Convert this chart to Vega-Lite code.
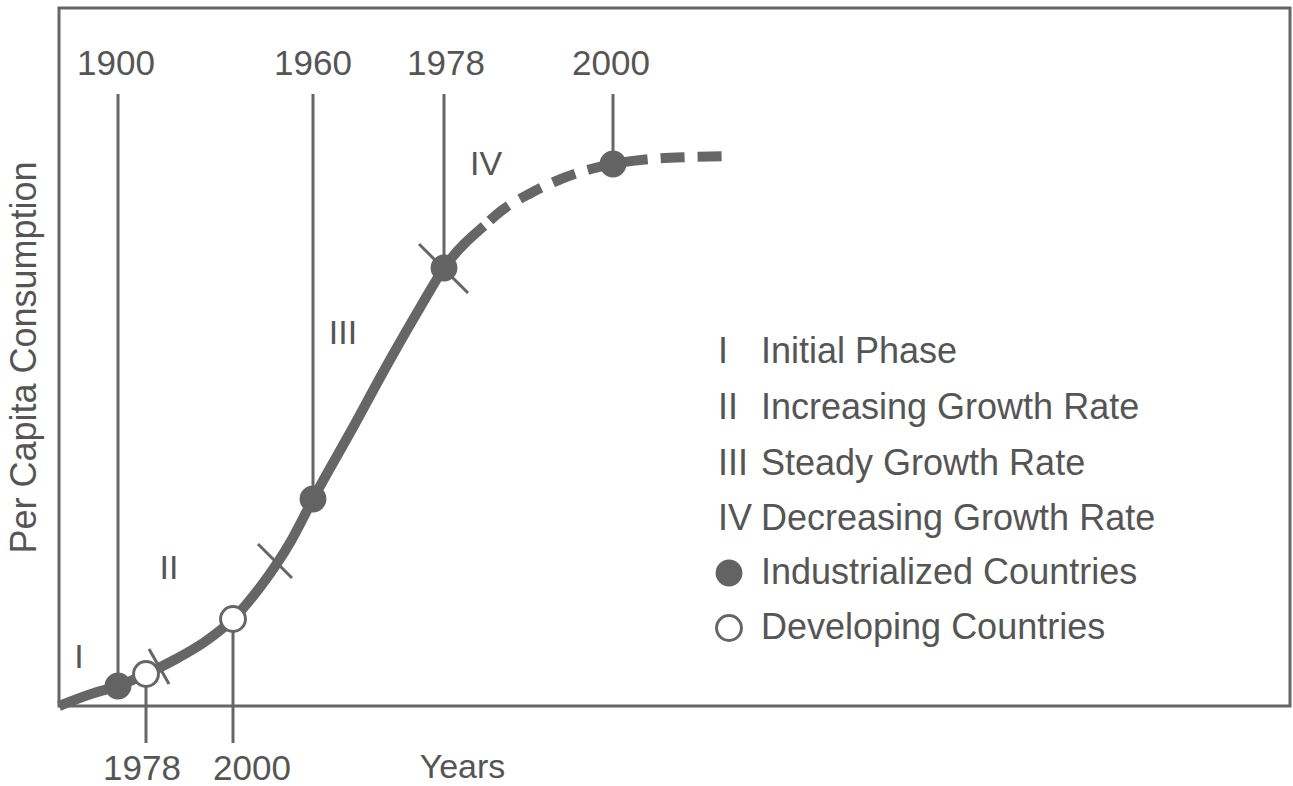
{
  "$schema": "https://vega.github.io/schema/vega-lite/v6.json",
  "width": 1231,
  "height": 698,
  "autosize": {"type": "none"},
  "padding": {"left": 59, "top": 8, "right": 3, "bottom": 80},
  "background": "white",
  "config": {
    "view": {"stroke": "#666666", "strokeWidth": 3},
    "font": "Liberation Sans",
    "text": {"font": "Liberation Sans", "color": "#555555"}
  },
  "datasets": {
    "solid": [
      {"x": 0, "y": 0}, {"x": 32, "y": 12}, {"x": 59, "y": 20}, {"x": 87, "y": 32},
      {"x": 117, "y": 47}, {"x": 147, "y": 65}, {"x": 174, "y": 87}, {"x": 202, "y": 120},
      {"x": 232, "y": 165}, {"x": 254, "y": 207}, {"x": 292, "y": 275}, {"x": 332, "y": 348},
      {"x": 362, "y": 400}, {"x": 385, "y": 438}, {"x": 425, "y": 480}
    ],
    "dashed": [
      {"x": 425, "y": 480}, {"x": 442, "y": 495}, {"x": 472, "y": 513}, {"x": 502, "y": 527},
      {"x": 532, "y": 537}, {"x": 554, "y": 542}, {"x": 592, "y": 547}, {"x": 632, "y": 549},
      {"x": 672, "y": 550}
    ],
    "verticals": [
      {"x": 59, "y": 20, "y2": 612},
      {"x": 254, "y": 207, "y2": 612},
      {"x": 385, "y": 438, "y2": 612},
      {"x": 554, "y": 542, "y2": 612},
      {"x": 87, "y": 32, "y2": -37},
      {"x": 174, "y": 87, "y2": -37}
    ],
    "crossings": [
      {"x": 90, "y": 57, "x2": 110, "y2": 22},
      {"x": 199, "y": 162, "x2": 233, "y2": 128},
      {"x": 360, "y": 462, "x2": 409, "y2": 413}
    ],
    "points": [
      {"x": 59, "y": 20, "group": "Industrialized Countries"},
      {"x": 254, "y": 207, "group": "Industrialized Countries"},
      {"x": 385, "y": 438, "group": "Industrialized Countries"},
      {"x": 554, "y": 542, "group": "Industrialized Countries"},
      {"x": 87, "y": 32, "group": "Developing Countries"},
      {"x": 174, "y": 87, "group": "Developing Countries"},
      {"x": 670, "y": 133, "group": "Industrialized Countries"},
      {"x": 670, "y": 78, "group": "Developing Countries"}
    ],
    "yearLabels": [
      {"x": 57, "y": 642, "t": "1900"},
      {"x": 254, "y": 642, "t": "1960"},
      {"x": 387, "y": 642, "t": "1978"},
      {"x": 552, "y": 642, "t": "2000"},
      {"x": 83, "y": -63, "t": "1978"},
      {"x": 193, "y": -63, "t": "2000"}
    ],
    "phaseLabels": [
      {"x": 20, "y": 48, "t": "I"},
      {"x": 110, "y": 137, "t": "II"},
      {"x": 284, "y": 372, "t": "III"},
      {"x": 427, "y": 541, "t": "IV"}
    ],
    "legendText": [
      {"x": 659, "x2": 702, "y": 354, "num": "I", "t": "Initial Phase"},
      {"x": 659, "x2": 702, "y": 298, "num": "II", "t": "Increasing Growth Rate"},
      {"x": 659, "x2": 702, "y": 242, "num": "III", "t": "Steady Growth Rate"},
      {"x": 659, "x2": 702, "y": 187, "num": "IV", "t": "Decreasing Growth Rate"},
      {"x": 659, "x2": 702, "y": 133, "num": "", "t": "Industrialized Countries"},
      {"x": 659, "x2": 702, "y": 78, "num": "", "t": "Developing Countries"}
    ]
  },
  "encoding": {
    "x": {
      "field": "x", "type": "quantitative",
      "scale": {"domain": [0, 1231], "nice": false, "zero": false},
      "axis": {
        "domain": false, "ticks": false, "labels": false, "grid": false,
        "title": "Years", "titleFontSize": 34, "titleFontWeight": "normal",
        "titleColor": "#555555", "titleFont": "Liberation Sans",
        "titleX": 403, "titleY": 61, "titleAlign": "center", "titleBaseline": "middle"
      }
    },
    "y": {
      "field": "y", "type": "quantitative",
      "scale": {"domain": [0, 698], "nice": false, "zero": false},
      "axis": {
        "domain": false, "ticks": false, "labels": false, "grid": false,
        "title": "Per Capita Consumption", "titleFontSize": 36, "titleFontWeight": "normal",
        "titleColor": "#555555", "titleFont": "Liberation Sans", "titleAngle": 270,
        "titleX": -35, "titleY": 349, "titleAlign": "center", "titleBaseline": "middle"
      }
    }
  },
  "layer": [
    {
      "data": {"name": "verticals"},
      "mark": {"type": "rule", "color": "#666666", "strokeWidth": 3, "clip": false},
      "encoding": {"y2": {"field": "y2"}}
    },
    {
      "data": {"name": "solid"},
      "mark": {"type": "line", "color": "#666666", "strokeWidth": 10, "interpolate": "monotone", "strokeCap": "butt"},
      "encoding": {}
    },
    {
      "data": {"name": "dashed"},
      "mark": {"type": "line", "color": "#666666", "strokeWidth": 10, "interpolate": "monotone", "strokeDash": [24, 13], "strokeDashOffset": -8, "strokeCap": "butt"},
      "encoding": {}
    },
    {
      "data": {"name": "crossings"},
      "mark": {"type": "rule", "color": "#666666", "strokeWidth": 3},
      "encoding": {"x2": {"field": "x2"}, "y2": {"field": "y2"}}
    },
    {
      "data": {"name": "points"},
      "transform": [{"filter": "datum.group === 'Industrialized Countries'"}],
      "mark": {"type": "point", "shape": "circle", "filled": true, "color": "#636363", "opacity": 1, "size": 720},
      "encoding": {}
    },
    {
      "data": {"name": "points"},
      "transform": [{"filter": "datum.group === 'Developing Countries'"}],
      "mark": {"type": "point", "shape": "circle", "filled": false, "fill": "white", "fillOpacity": 1, "stroke": "#666666", "strokeWidth": 3, "opacity": 1, "size": 620},
      "encoding": {}
    },
    {
      "data": {"name": "yearLabels"},
      "mark": {"type": "text", "fontSize": 35, "align": "center", "baseline": "middle", "clip": false},
      "encoding": {"text": {"field": "t"}}
    },
    {
      "data": {"name": "phaseLabels"},
      "mark": {"type": "text", "fontSize": 34, "align": "center", "baseline": "middle"},
      "encoding": {"text": {"field": "t"}}
    },
    {
      "data": {"name": "legendText"},
      "mark": {"type": "text", "fontSize": 36, "align": "left", "baseline": "middle"},
      "encoding": {"text": {"field": "num"}}
    },
    {
      "data": {"name": "legendText"},
      "mark": {"type": "text", "fontSize": 36, "align": "left", "baseline": "middle"},
      "encoding": {"x": {"field": "x2", "type": "quantitative"}, "text": {"field": "t"}}
    }
  ]
}
